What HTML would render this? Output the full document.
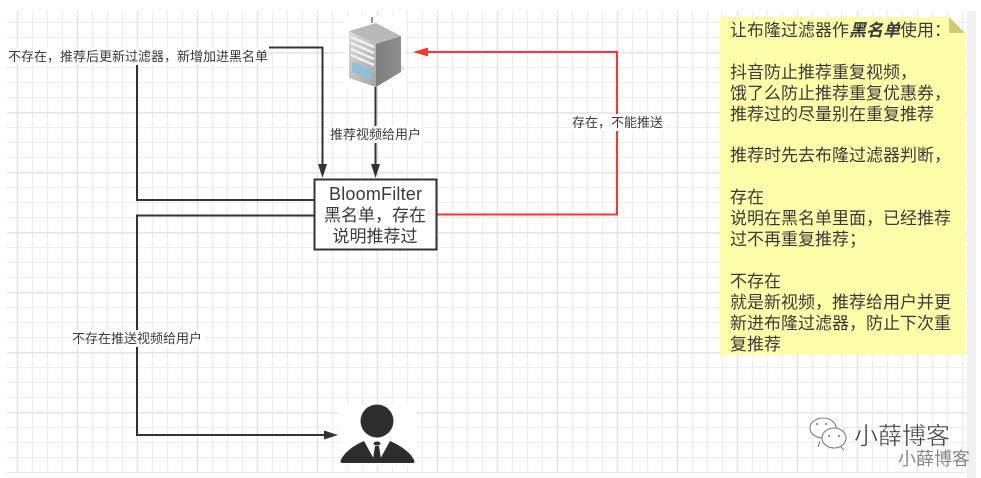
<!DOCTYPE html>
<html><head><meta charset="utf-8"><style>
html,body{margin:0;padding:0;background:#fff;width:981px;height:478px;overflow:hidden}
svg{display:block}
text{font-family:"Liberation Sans","Noto Sans CJK SC",sans-serif;fill:#3a3a3a}
</style></head><body>
<svg width="981" height="478" viewBox="0 0 981 478" xmlns="http://www.w3.org/2000/svg">
<defs>
<pattern id="g" x="10" y="15" width="15" height="15" patternUnits="userSpaceOnUse"><path d="M7.500 0V15M0 7.500H15" stroke="#eeeeee" stroke-width="1.300" fill="none"/></pattern>
<pattern id="G" x="-13" y="23" width="60" height="60" patternUnits="userSpaceOnUse"><path d="M30.500 0V60M0 30H60" stroke="#e3e3e3" stroke-width="1.300" fill="none"/></pattern>
<linearGradient id="sf" x1="0" y1="0" x2="1" y2="1"><stop offset="0" stop-color="#dcdcdc"/><stop offset="1" stop-color="#a2a4a4"/></linearGradient>
<linearGradient id="ss" x1="0" y1="0" x2="1" y2="0"><stop offset="0" stop-color="#7d7d7d"/><stop offset="1" stop-color="#8f8f8f"/></linearGradient>
</defs>
<rect x="7" y="11" width="960" height="462" fill="url(#g)"/>
<rect x="7" y="11" width="960" height="462" fill="url(#G)"/>
<rect x="967" y="11" width="9" height="467" fill="#f0f0f0"/>

<!-- server -->
<rect x="345" y="16" width="60" height="72" fill="#fff"/>
<path d="M372 17V23" stroke="#3f8c95" stroke-width="1.500"/>
<polygon points="349,31 376,23 401,36 376,44" fill="#b9b9b9"/>
<polygon points="349,31 376,44 376,87 349,78" fill="url(#sf)"/>
<polygon points="376,44 401,36 401,72 376,87" fill="url(#ss)"/>
<g stroke="#f0f0f0" stroke-width="2.500"><path d="M351 37L374 47M351 43L374 53M351 49L374 59M351 55L374 65"/></g>
<polygon points="352,62 372,69 372,79 352,72" fill="#8fc0d8"/>
<polygon points="401,66 406,68 401,72" fill="#e4e4e4"/>

<!-- connectors -->
<g fill="none" stroke="#333" stroke-width="2">
<path d="M269 47.500H322.500V166"/>
<path d="M137 65V200H314"/>
<path d="M314 215.500H137V435H328"/>
<path d="M375.500 87V166"/>
</g>
<g fill="#333">
<polygon points="322.500,178 318,164 327,164"/>
<polygon points="375.500,178 371,164 380,164"/>
<polygon points="338,435 324,430.500 324,439.500"/>
</g>
<path d="M437 214.500H617V52H425" fill="none" stroke="#f33" stroke-width="2"/>
<polygon points="413,52 428,47.500 428,56.500" fill="#f33"/>

<!-- box -->
<rect x="314.500" y="179.500" width="122" height="70" fill="#fff" stroke="#333" stroke-width="2"/>
<g font-size="17" text-anchor="middle">
<text x="375.500" y="200" font-size="18" textLength="93" lengthAdjust="spacing">BloomFilter</text>
<text x="375" y="221">黑名单，存在</text>
<text x="375" y="242">说明推荐过</text>
</g>

<!-- labels -->
<rect x="329" y="126" width="93" height="17" fill="#fff"/>
<rect x="571" y="114" width="94" height="17" fill="#fff"/>
<rect x="71" y="330" width="133" height="17" fill="#fff"/>
<rect x="7" y="47" width="262" height="17" fill="#fff"/>
<g font-size="13">
<text x="8" y="61">不存在，推荐后更新过滤器，新增加进黑名单</text>
<text x="330" y="139">推荐视频给用户</text>
<text x="572" y="127">存在，不能推送</text>
<text x="72" y="343">不存在推送视频给用户</text>
</g>

<!-- person -->
<rect x="339" y="404" width="77" height="62" fill="#fff"/>
<circle cx="377" cy="421" r="16.500" fill="#2d2d2d"/>
<path d="M364 441L375 461H379L390 441C402 446 412 454 414.500 461Q415 463 412 463H343Q340 463 340.500 461C343 454 352 446 364 441Z" fill="#2d2d2d"/>
<ellipse cx="377" cy="443.500" rx="3.500" ry="2" fill="#2d2d2d"/>
<polygon points="375,446 379,446 381,459 377,463 373,459" fill="#2d2d2d"/>

<!-- note -->
<polygon points="720,17 949,17 965,33 965,355 720,355" fill="#ffffaa"/>
<polygon points="949,17 965,33 949,33" fill="#cccc77"/>
<g font-size="17">
<text x="730" y="36">让布隆过滤器作<tspan font-weight="bold" font-style="italic">黑名单</tspan>使用：</text>
<text x="730" y="78">抖音防止推荐重复视频，</text>
<text x="730" y="99">饿了么防止推荐重复优惠券，</text>
<text x="730" y="120">推荐过的尽量别在重复推荐</text>
<text x="730" y="161">推荐时先去布隆过滤器判断，</text>
<text x="730" y="203">存在</text>
<text x="730" y="224">说明在黑名单里面，已经推荐</text>
<text x="730" y="245">过不再重复推荐；</text>
<text x="730" y="287">不存在</text>
<text x="730" y="308">就是新视频，推荐给用户并更</text>
<text x="730" y="329">新进布隆过滤器，防止下次重</text>
<text x="730" y="350">复推荐</text>
</g>

<!-- watermark -->
<g fill="#fff" stroke="#777" stroke-width="1">
<path d="M820 441L818 447" />
<ellipse cx="823" cy="428" rx="13" ry="10"/>
<path d="M841 447L844 450" />
<ellipse cx="834" cy="438" rx="12" ry="10"/>
</g>
<g fill="#777"><circle cx="817" cy="424" r="1"/><circle cx="826" cy="424" r="1"/><circle cx="829" cy="436" r="1"/><circle cx="839" cy="436" r="1"/></g>
<text x="854" y="444" font-size="24" style="fill:#444;stroke:#fff;stroke-width:.4">小薛博客</text>
<text x="898" y="465" font-size="18" style="fill:#888">小薛博客</text>
</svg>
</body></html>
